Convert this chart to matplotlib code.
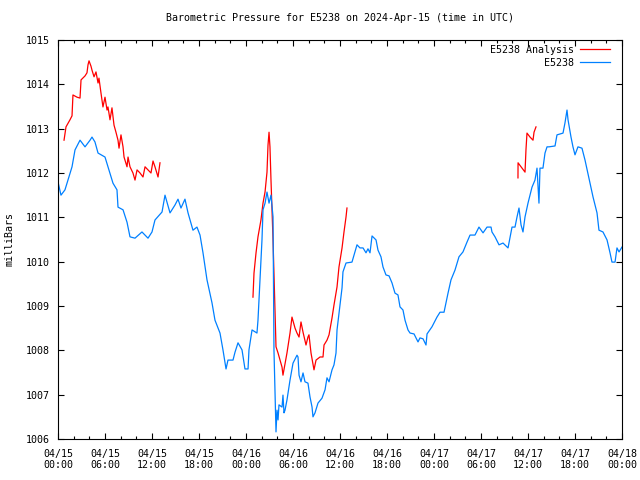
import matplotlib
matplotlib.use('Agg')
import matplotlib.pyplot as plt
import matplotlib.dates as mdates
import numpy as np
import pandas as pd

# hours after 2024-04-15 00:00 UTC, pressure in mb
station_hours = [
    0, 0.38, 0.89, 1.79, 2.17, 2.81, 3.45, 4.09, 4.34, 4.72, 5.11, 6.00, 6.38, 7.02, 7.53,
    7.66, 8.30, 8.81, 9.19, 9.83, 10.72, 11.49, 12.00, 12.38, 13.28, 13.66, 14.30, 14.94,
    15.32, 15.70, 16.21, 16.60, 17.23, 17.74, 18.13, 18.51, 19.02, 19.66, 20.04, 20.68,
    21.06, 21.45, 21.70, 22.34, 22.60, 22.98, 23.49, 23.87, 24.26, 24.38, 24.77, 25.40,
    25.53, 25.79, 26.04, 26.17, 26.43, 26.68, 26.94, 27.19, 27.45, 27.57, 27.83, 27.96,
    28.09, 28.21, 28.60, 28.72, 28.85, 28.98, 29.23, 29.62, 30.00, 30.51, 30.64, 30.77,
    31.02, 31.28, 31.53, 31.91, 32.17, 32.43, 32.55, 32.81, 33.19, 33.70, 34.09, 34.34,
    34.60, 34.98, 35.23, 35.49, 35.62, 36.00, 36.26, 36.38, 36.77, 37.53, 37.79, 38.17,
    38.55, 38.94, 39.32, 39.57, 39.83, 40.09, 40.60, 40.85, 41.23, 41.49, 41.87, 42.26,
    42.64, 43.02, 43.40, 43.66, 44.04, 44.30, 44.68, 44.94, 45.45, 45.96, 46.21, 46.60,
    46.98, 47.11, 47.74, 48.38, 48.77, 49.28, 49.53, 49.79, 50.17, 50.68, 51.19, 51.70,
    52.21, 52.60, 53.23, 53.74, 54.26, 54.77, 55.28, 55.40, 55.79, 56.30, 56.81, 57.45,
    57.96, 58.34, 58.60, 58.85, 59.11, 59.36, 59.62, 60.00, 60.51, 60.89, 61.15, 61.40,
    61.53, 61.91, 62.17, 62.43, 62.68, 63.45, 63.70, 64.47, 64.72, 64.98, 65.11, 65.49,
    65.74, 66.00, 66.38, 66.89, 67.28, 67.91, 68.30, 68.81, 69.06, 69.57, 70.09, 70.47,
    70.72, 71.11, 71.36, 71.62, 72.00,
]
station_mb = [
    1011.80, 1011.50, 1011.62, 1012.14, 1012.52, 1012.74, 1012.59, 1012.74, 1012.81,
    1012.70, 1012.45, 1012.36, 1012.14, 1011.77, 1011.62, 1011.23, 1011.17, 1010.89,
    1010.56, 1010.53, 1010.67, 1010.53, 1010.67, 1010.94, 1011.12, 1011.50, 1011.10,
    1011.28, 1011.41, 1011.21, 1011.41, 1011.10, 1010.71, 1010.78, 1010.60, 1010.20,
    1009.59, 1009.07, 1008.68, 1008.39, 1008.01, 1007.58, 1007.78, 1007.78, 1007.96,
    1008.17, 1008.01, 1007.58, 1007.58, 1008.01, 1008.46, 1008.39, 1008.68, 1009.59,
    1010.49, 1011.17, 1011.32, 1011.57, 1011.32, 1011.50, 1011.01, 1008.01, 1006.16,
    1006.65, 1006.43, 1006.77, 1006.72, 1006.99, 1006.59, 1006.65, 1006.88, 1007.33,
    1007.71, 1007.89, 1007.85, 1007.44, 1007.29, 1007.49, 1007.29, 1007.26, 1006.95,
    1006.72, 1006.50, 1006.59, 1006.81, 1006.92, 1007.11, 1007.38, 1007.29, 1007.56,
    1007.67, 1007.94, 1008.46, 1009.02, 1009.41, 1009.77, 1009.97, 1009.99, 1010.15,
    1010.38, 1010.31, 1010.31, 1010.20, 1010.29, 1010.20, 1010.58, 1010.49, 1010.26,
    1010.11, 1009.88, 1009.70, 1009.68, 1009.52, 1009.29, 1009.25, 1008.98, 1008.91,
    1008.68, 1008.46, 1008.39, 1008.37, 1008.19, 1008.28, 1008.26, 1008.12, 1008.37,
    1008.53, 1008.75, 1008.86, 1008.86, 1009.07, 1009.29, 1009.59, 1009.81, 1010.11,
    1010.22, 1010.44, 1010.60, 1010.60, 1010.78, 1010.65, 1010.78, 1010.78, 1010.67,
    1010.56, 1010.38, 1010.42, 1010.31, 1010.78, 1010.78, 1011.01, 1011.21, 1010.83,
    1010.67, 1011.01, 1011.32, 1011.68, 1011.84, 1012.11, 1011.32, 1012.11, 1012.11,
    1012.45, 1012.59, 1012.59, 1012.61, 1012.86, 1012.90, 1013.13, 1013.42, 1013.20,
    1012.81, 1012.59, 1012.41, 1012.59, 1012.56, 1012.29, 1011.77, 1011.46, 1011.10,
    1010.71, 1010.67, 1010.49, 1010.20, 1009.99, 1009.99, 1010.31, 1010.22, 1010.33,
]

# analysis comes in three separate runs
analysis1_hours = [
    0.77, 1.02, 1.53, 1.79, 1.91, 2.43, 2.81, 2.94, 3.45, 3.70, 3.83, 3.96, 4.21, 4.34,
    4.60, 4.85, 5.11, 5.23, 5.49, 5.74, 6.00, 6.26, 6.38, 6.64, 6.89, 7.15, 7.40, 7.66,
    7.79, 8.04, 8.30, 8.43, 8.81, 8.94, 9.19, 9.57, 9.83, 10.09, 10.47, 10.85, 11.11,
    11.49, 11.87, 12.13, 12.38, 12.77, 13.02,
]
analysis1_mb = [
    1012.74, 1013.04, 1013.20, 1013.29, 1013.76, 1013.71, 1013.69, 1014.10, 1014.19,
    1014.26, 1014.44, 1014.53, 1014.41, 1014.32, 1014.17, 1014.28, 1014.03, 1014.14,
    1013.80, 1013.49, 1013.71, 1013.42, 1013.49, 1013.20, 1013.47, 1013.08, 1012.92,
    1012.74, 1012.56, 1012.86, 1012.59, 1012.36, 1012.14, 1012.36, 1012.14, 1012.00,
    1011.84, 1012.07, 1012.00, 1011.91, 1012.14, 1012.07, 1012.00, 1012.27, 1012.14,
    1011.91, 1012.23,
]
analysis2_hours = [
    24.89, 25.02, 25.28, 25.53, 25.91, 26.17, 26.43, 26.68, 26.81, 26.94, 27.06, 27.19,
    27.32, 27.45, 27.70, 27.83, 28.09, 28.60, 28.72, 29.23, 29.62, 29.87, 30.26, 30.51,
    30.77, 31.02, 31.28, 31.66, 31.91, 32.04, 32.30, 32.68, 32.94, 33.45, 33.83, 33.96,
    34.34, 34.60, 34.98, 35.23, 35.62, 35.87, 36.26, 36.51, 36.77, 36.89,
]
analysis2_mb = [
    1009.20, 1009.74, 1010.20, 1010.56, 1010.94, 1011.32, 1011.57, 1012.02, 1012.63,
    1012.92, 1012.59, 1011.84, 1011.17, 1010.49, 1008.91, 1008.08, 1007.94, 1007.62,
    1007.44, 1007.94, 1008.39, 1008.75, 1008.50, 1008.39, 1008.30, 1008.64, 1008.41,
    1008.12, 1008.30, 1008.35, 1007.94, 1007.56, 1007.78, 1007.85, 1007.85, 1008.12,
    1008.23, 1008.35, 1008.73, 1009.02, 1009.43, 1009.88, 1010.31, 1010.67, 1011.01,
    1011.21,
]
analysis3_hours = [58.72, 58.73, 59.62, 59.74, 59.87, 60.26, 60.64, 60.77, 61.02]
analysis3_mb = [1011.89, 1012.23, 1012.02, 1012.52, 1012.90, 1012.81, 1012.74, 1012.92, 1013.04]

start = pd.Timestamp('2024-04-15 00:00')


def to_time(hours):
    return start + pd.to_timedelta(np.array(hours), unit='h')


plt.rcParams['font.family'] = 'DejaVu Sans Mono'
plt.rcParams['font.size'] = 7.2

fig = plt.figure(figsize=(6.4, 4.8), dpi=100)
ax = fig.add_axes([58 / 640, 41 / 480, 564 / 640, 399 / 480])

segments = [(analysis1_hours, analysis1_mb), (analysis2_hours, analysis2_mb),
            (analysis3_hours, analysis3_mb)]
for i, (h, v) in enumerate(segments):
    ax.plot(to_time(h), v, color='#ff0000', lw=0.9,
            label='E5238 Analysis' if i == 0 else None)
ax.plot(to_time(station_hours), station_mb, color='#0080ff', lw=0.9, label='E5238')

ax.set_xlim(start, start + pd.Timedelta(hours=72))
ax.set_ylim(1006, 1015)
ax.set_yticks(range(1006, 1016))
ax.xaxis.set_major_locator(mdates.HourLocator(byhour=[0, 6, 12, 18]))
ax.xaxis.set_minor_locator(mdates.HourLocator(interval=2))
ax.xaxis.set_major_formatter(mdates.DateFormatter('%m/%d\n%H:%M'))

ax.tick_params(which='both', direction='in', top=True, right=True, width=0.8)
ax.tick_params(which='major', length=4)
ax.tick_params(which='minor', length=2.5)
ax.tick_params(axis='x', which='major', pad=7)
ax.tick_params(axis='y', pad=6)
for s in ax.spines.values():
    s.set_linewidth(0.8)

ax.set_title('Barometric Pressure for E5238 on 2024-Apr-15 (time in UTC)',
             fontsize=7.2, pad=14)
ax.set_ylabel('milliBars', labelpad=8)

ax.legend(loc='upper right', bbox_to_anchor=(1 - 7 / 564, 1), frameon=False,
          markerfirst=False, handlelength=3.0, handletextpad=0.6, labelspacing=0.3,
          borderaxespad=0.3, borderpad=0.2)

fig.savefig('out.png', dpi=100)
